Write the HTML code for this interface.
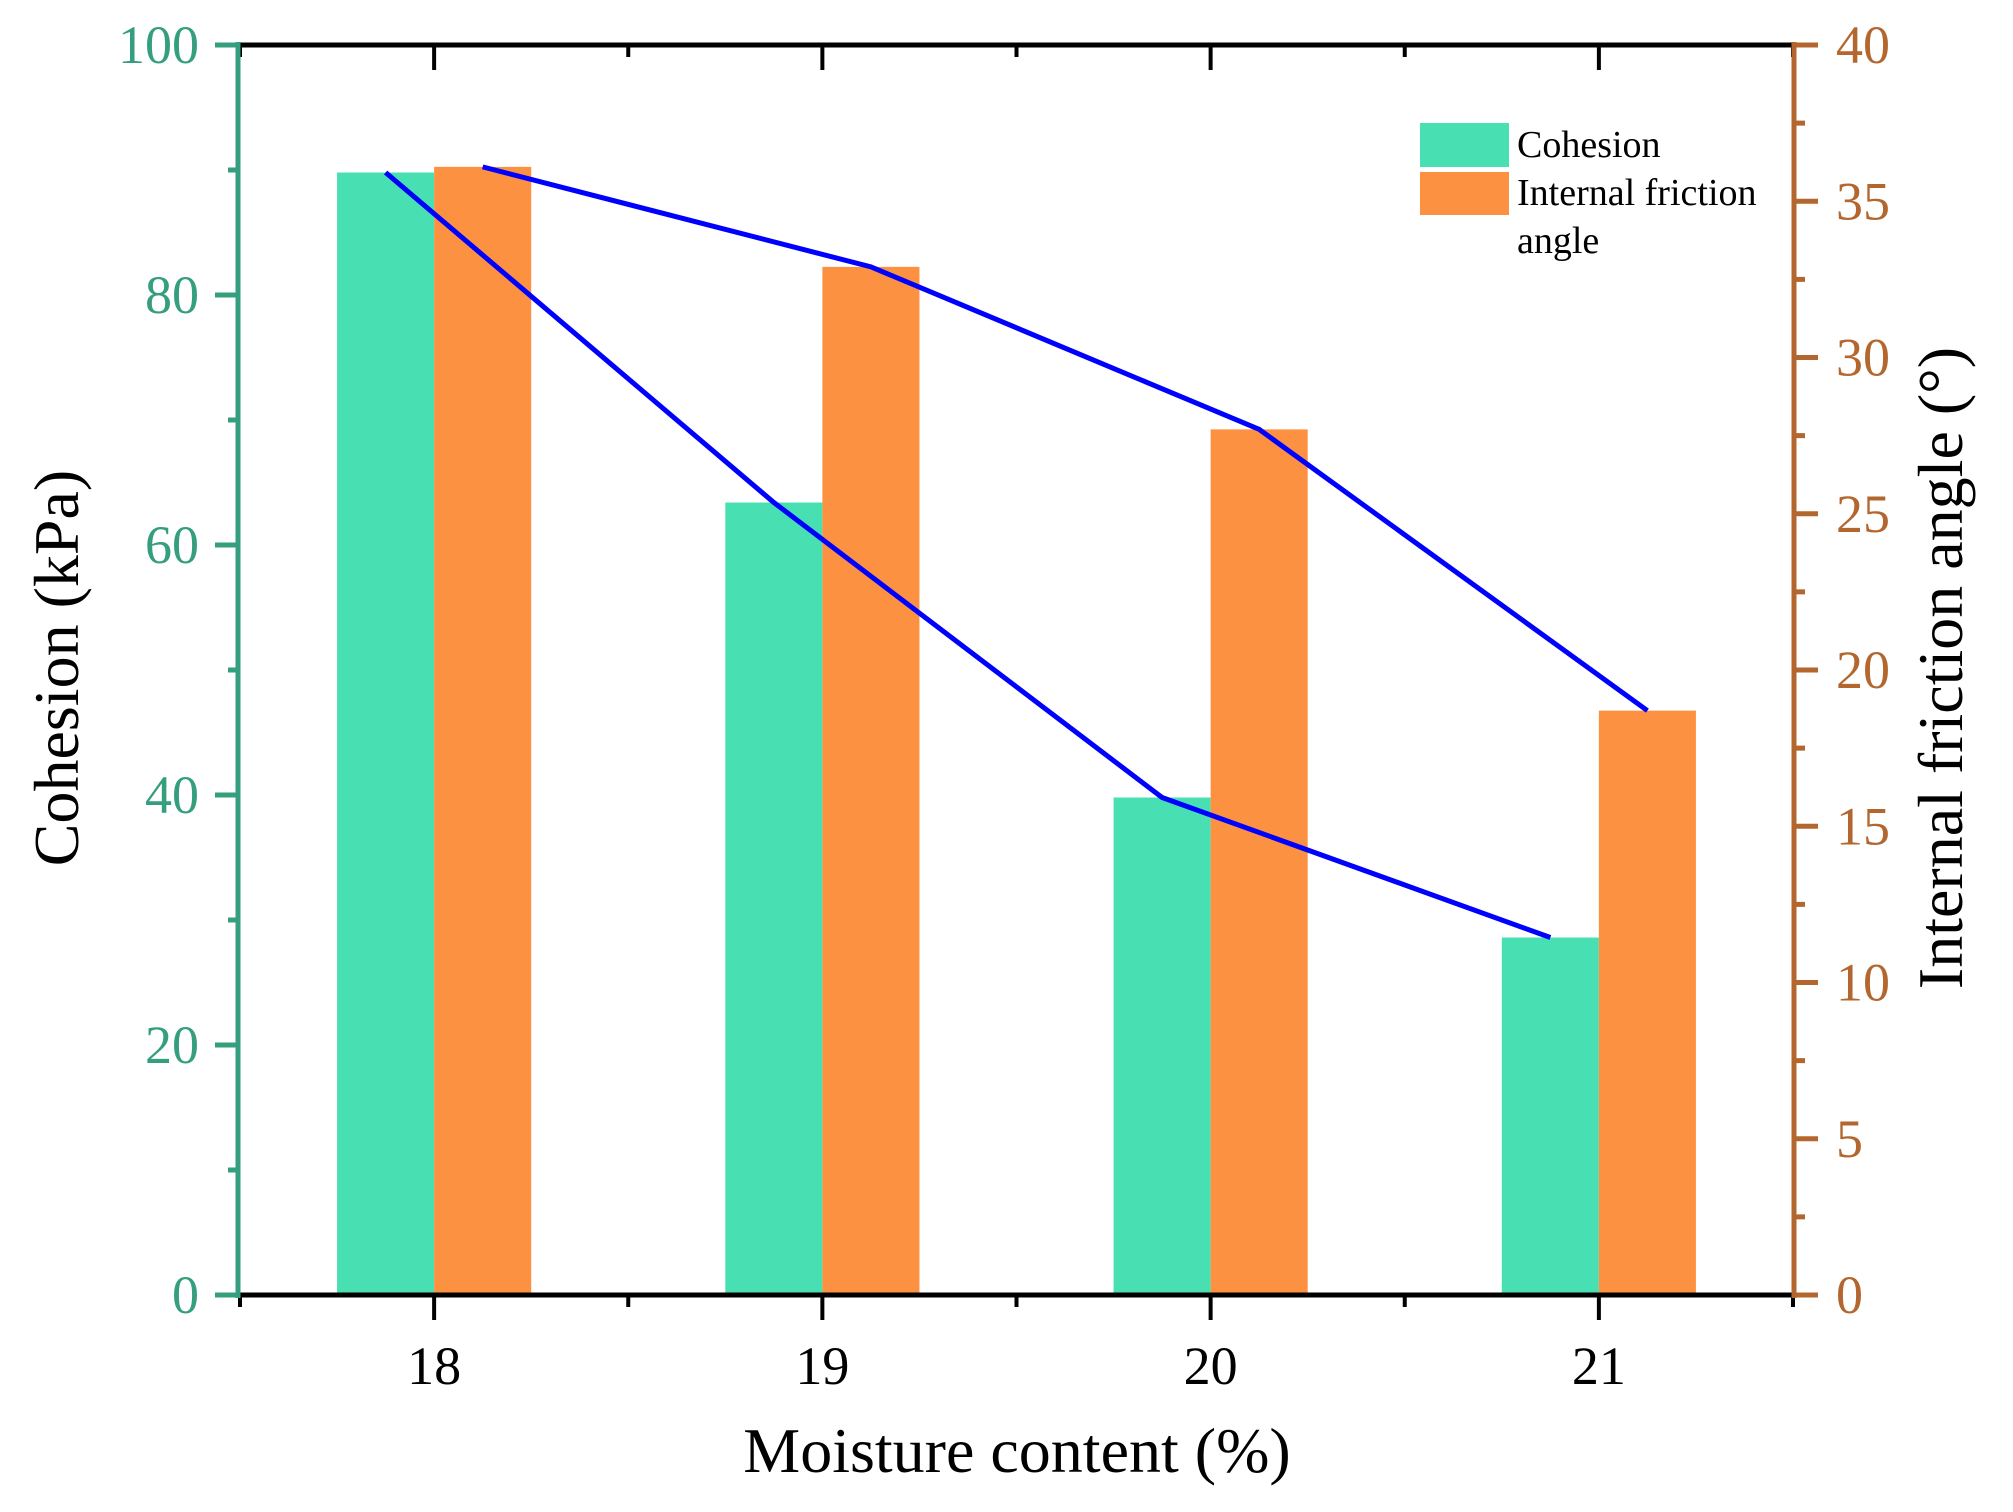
<!DOCTYPE html>
<html><head><meta charset="utf-8"><style>
html,body{margin:0;padding:0;background:#fff;}
svg{display:block;font-family:"Liberation Serif",serif;}
</style></head><body>
<svg id="chart" width="2013" height="1512" viewBox="0 0 2013 1512" xmlns="http://www.w3.org/2000/svg">
<g id="plot"></g>
</svg>
<script>
const categories = [18, 19, 20, 21];
const cohesion = [89.8, 63.4, 39.8, 28.6];
const friction = [36.1, 32.9, 27.7, 18.7];
const leftTicks = [0, 20, 40, 60, 80, 100];
const rightTicks = [0, 5, 10, 15, 20, 25, 30, 35, 40];

const L = 240, R = 1793, T = 45, B = 1295;
const xMin = 17.5, xMax = 21.5;
const X = v => L + (v - xMin) / (xMax - xMin) * (R - L);
const YL = v => B - v / 100 * (B - T);
const YR = v => B - v / 40 * (B - T);
const NS = "http://www.w3.org/2000/svg";
const g = document.getElementById('plot');
function mk(tag, attrs, parent) {
  const e = document.createElementNS(NS, tag);
  for (const k in attrs) e.setAttribute(k, attrs[k]);
  (parent || g).appendChild(e);
  return e;
}
const bw = X(0.25) - X(0);
const teal = "#359e7f", brown = "#b3672e";

categories.forEach((c, i) => {
  const r1 = mk('rect', {x: X(c) - bw, y: YL(cohesion[i]), width: bw, height: B - YL(cohesion[i]), fill: '#48e0b2'});
  
  
  const r2 = mk('rect', {x: X(c), y: YR(friction[i]), width: bw, height: B - YR(friction[i]), fill: '#fd9142'});
  
  
});

const p1 = mk('polyline', {points: categories.map((c, i) => (X(c) - bw / 2) + ',' + YL(cohesion[i])).join(' '), fill: 'none', stroke: '#0000ff', 'stroke-width': 5});


const p2 = mk('polyline', {points: categories.map((c, i) => (X(c) + bw / 2) + ',' + YR(friction[i])).join(' '), fill: 'none', stroke: '#0000ff', 'stroke-width': 5});



mk('line', {x1: L, y1: T, x2: R, y2: T, stroke: '#000', 'stroke-width': 5});
mk('line', {x1: L, y1: B, x2: R, y2: B, stroke: '#000', 'stroke-width': 5});
for (let v = xMin; v <= xMax + 0.001; v += 0.5) {
  const major = Math.abs(v - Math.round(v)) < 0.01;
  mk('line', {x1: X(v), y1: B, x2: X(v), y2: B + (major ? 25 : 12), stroke: '#000', 'stroke-width': 4});
  mk('line', {x1: X(v), y1: T, x2: X(v), y2: T + (major ? 25 : 12), stroke: '#000', 'stroke-width': 4});
}
categories.forEach(c => {
  const t = mk('text', {x: X(c), y: 1384, 'font-size': 54, 'text-anchor': 'middle', fill: '#000'});
  t.textContent = c;
  
  
});
mk('line', {x1: L - 2, y1: T - 3, x2: L - 2, y2: B + 3, stroke: teal, 'stroke-width': 5});
for (let v = 0; v <= 100; v += 10) {
  const major = v % 20 === 0;
  mk('line', {x1: L - (major ? 25 : 12), y1: YL(v), x2: L, y2: YL(v), stroke: teal, 'stroke-width': 5});
}
leftTicks.forEach(v => {
  const t = mk('text', {x: 199, y: YL(v) + 18, 'font-size': 54, 'text-anchor': 'end', fill: teal});
  t.textContent = v;
  
  
});
mk('line', {x1: R + 1, y1: T - 3, x2: R + 1, y2: B + 3, stroke: brown, 'stroke-width': 5});
for (let v = 0; v <= 40; v += 2.5) {
  const major = v % 5 === 0;
  mk('line', {x1: R, y1: YR(v), x2: R + (major ? 25 : 12), y2: YR(v), stroke: brown, 'stroke-width': 5});
}
rightTicks.forEach(v => {
  const t = mk('text', {x: 1836, y: YR(v) + 18, 'font-size': 54, 'text-anchor': 'start', fill: brown});
  t.textContent = v;
  
  
});
const xt = mk('text', {x: 1017, y: 1472, 'font-size': 64, 'text-anchor': 'middle', fill: '#000'});
xt.textContent = 'Moisture content (%)';


const yl = mk('text', {x: 0, y: 0, 'font-size': 64, 'text-anchor': 'middle', fill: '#000', transform: 'translate(78,668) rotate(-90)'});
yl.textContent = 'Cohesion (kPa)';


const yr = mk('text', {x: 0, y: 0, 'font-size': 64, 'text-anchor': 'middle', fill: '#000', transform: 'translate(1962,668) rotate(-90)'});
yr.textContent = 'Internal friction angle (°)';


const lg = mk('g', {});


mk('rect', {x: 1420, y: 123, width: 89, height: 44, fill: '#48e0b2'}, lg);
mk('rect', {x: 1420, y: 172, width: 89, height: 43, fill: '#fd9142'}, lg);
const l1 = mk('text', {x: 1517, y: 157, 'font-size': 38, fill: '#000'}, lg);
l1.textContent = 'Cohesion';


const l2 = mk('text', {x: 1517, y: 205, 'font-size': 38, fill: '#000'}, lg);
l2.textContent = 'Internal friction';


const l3 = mk('text', {x: 1517, y: 253, 'font-size': 38, fill: '#000'}, lg);
l3.textContent = 'angle';


</script>
</body></html>
